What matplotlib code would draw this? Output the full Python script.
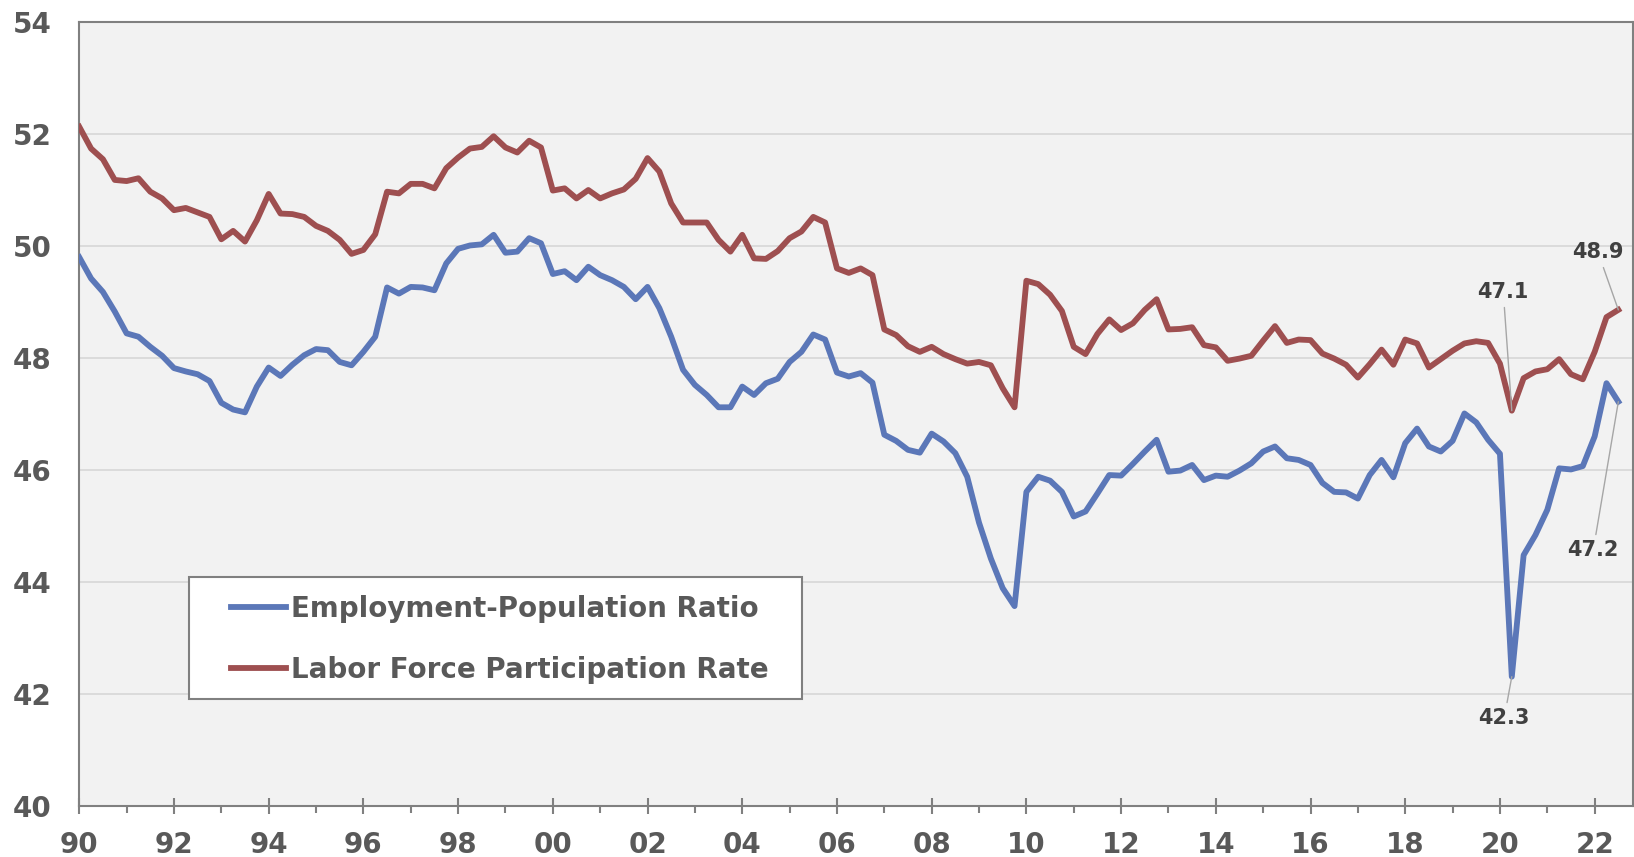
import numpy as np
import pandas as pd
from matplotlib import pyplot as plt
from matplotlib.patches import Rectangle

# quarterly data, 1990Q1 - 2022Q3
quarters = pd.period_range('1990Q1', '2022Q3', freq='Q')

emp_pop_ratio = [
    49.80, 49.42, 49.18, 48.83, 48.44, 48.38, 48.20, 48.04, 47.82, 47.76,
    47.71, 47.59, 47.20, 47.08, 47.03, 47.49, 47.83, 47.68, 47.88, 48.05,
    48.16, 48.14, 47.93, 47.87, 48.11, 48.38, 49.26, 49.15, 49.27, 49.26,
    49.21, 49.69, 49.95, 50.01, 50.03, 50.20, 49.88, 49.90, 50.14, 50.05,
    49.50, 49.55, 49.39, 49.63, 49.48, 49.39, 49.27, 49.05, 49.27, 48.89,
    48.38, 47.79, 47.52, 47.34, 47.12, 47.12, 47.49, 47.34, 47.55, 47.63,
    47.93, 48.11, 48.42, 48.33, 47.74, 47.67, 47.73, 47.56, 46.63, 46.52,
    46.36, 46.31, 46.65, 46.51, 46.30, 45.88, 45.06, 44.42, 43.89, 43.57,
    45.61, 45.88, 45.81, 45.61, 45.17, 45.26, 45.58, 45.91, 45.90, 46.11,
    46.33, 46.54, 45.97, 45.99, 46.09, 45.82, 45.90, 45.88, 45.99, 46.12,
    46.33, 46.42, 46.21, 46.18, 46.09, 45.77, 45.61, 45.60, 45.49, 45.91,
    46.18, 45.87, 46.48, 46.74, 46.42, 46.33, 46.52, 47.01, 46.85, 46.54,
    46.29, 42.31, 44.48, 44.84, 45.29, 46.03, 46.01, 46.07, 46.60, 47.55,
    47.22]

lf_part_rate = [
    52.13, 51.74, 51.55, 51.18, 51.16, 51.21, 50.97, 50.85, 50.64, 50.68,
    50.60, 50.52, 50.12, 50.27, 50.08, 50.46, 50.93, 50.58, 50.57, 50.52,
    50.36, 50.27, 50.11, 49.86, 49.93, 50.21, 50.97, 50.94, 51.11, 51.11,
    51.03, 51.39, 51.58, 51.74, 51.77, 51.96, 51.76, 51.67, 51.88, 51.76,
    50.99, 51.03, 50.85, 51.00, 50.85, 50.94, 51.01, 51.20, 51.57, 51.33,
    50.76, 50.42, 50.42, 50.42, 50.11, 49.90, 50.20, 49.78, 49.77, 49.91,
    50.14, 50.26, 50.52, 50.42, 49.60, 49.52, 49.60, 49.48, 48.51, 48.41,
    48.21, 48.11, 48.20, 48.07, 47.98, 47.90, 47.93, 47.87, 47.46, 47.12,
    49.38, 49.32, 49.13, 48.84, 48.20, 48.07, 48.43, 48.69, 48.50, 48.62,
    48.86, 49.05, 48.51, 48.52, 48.55, 48.23, 48.19, 47.95, 47.99, 48.04,
    48.31, 48.57, 48.27, 48.33, 48.32, 48.08, 47.99, 47.88, 47.65, 47.89,
    48.15, 47.88, 48.33, 48.26, 47.83, 47.98, 48.13, 48.26, 48.30, 48.27,
    47.90, 47.06, 47.64, 47.76, 47.80, 47.98, 47.71, 47.62, 48.11, 48.73,
    48.86]

year_ticks = list(range(1990, 2023, 2))
year_labels = ['%02d' % (y % 100) for y in year_ticks]

BLUE = '#5B77B8'
RED = '#9E4F50'
TXT = '#595959'

x = quarters.year + (quarters.quarter - 1) / 4.0

fig = plt.figure(figsize=(16.34, 8.57), dpi=100)
ax = fig.add_axes([0.0485, 0.0595, 0.9509, 0.9148])
ax.set_facecolor('#F2F2F2')

ax.plot(x, emp_pop_ratio, color=BLUE, lw=4.2, solid_joinstyle='round',
        label='Employment-Population Ratio', zorder=3)
ax.plot(x, lf_part_rate, color=RED, lw=4.2, solid_joinstyle='round',
        label='Labor Force Participation Rate', zorder=3)

ax.set_xlim(1990, 2022.81)
ax.set_ylim(40, 54)
ax.set_yticks(range(40, 55, 2))
ax.set_xticks(year_ticks)
ax.set_xticklabels(year_labels)
ax.set_xticks(range(1991, 2022, 2), minor=True)
ax.grid(axis='y', color='#D9D9D9', lw=1.3, zorder=1)
ax.set_axisbelow(True)

for s in ax.spines.values():
    s.set_color('#808080')
    s.set_linewidth(1.5)

ax.tick_params(axis='y', length=0, pad=20, labelsize=20, labelcolor=TXT)
ax.tick_params(axis='x', which='major', direction='inout', length=12, width=1.5,
               color='#808080', pad=12, labelsize=20, labelcolor=TXT)
ax.tick_params(axis='x', which='minor', direction='out', length=5, width=1.5,
               color='#808080')
for lab in ax.get_xticklabels() + ax.get_yticklabels():
    lab.set_fontweight('bold')

# legend box (white, gray border) + legend entries
ax.add_patch(Rectangle((0.0706, 0.1365), 0.3944, 0.1555, transform=ax.transAxes,
                       facecolor='white', edgecolor='#808080', lw=1.5, zorder=4))
leg = ax.legend(loc='center left', bbox_to_anchor=(0.0976, 0.2125), frameon=False,
                prop={'weight': 'bold', 'size': 20}, labelcolor=TXT,
                handlelength=2.0, handletextpad=0.15, labelspacing=1.21,
                borderpad=0, borderaxespad=0)
leg.set_zorder(5)

# data labels with leader lines
i = len(x) - 1
j = int(np.argmin(emp_pop_ratio))
labels = [
    (x[j], lf_part_rate[j], (2020.07, 49.18)),
    (x[i], lf_part_rate[i], (2022.07, 49.89)),
    (x[i], emp_pop_ratio[i], (2021.97, 44.57)),
    (x[j], emp_pop_ratio[j], (2020.09, 41.57)),
]
for px, py, pos in labels:
    ax.annotate('%.1f' % py, xy=(px, py), xytext=pos, ha='center', va='center',
                fontsize=15, fontweight='bold', color='#404040', zorder=6,
                arrowprops=dict(arrowstyle='-', color='#A6A6A6', lw=1,
                                shrinkA=2, shrinkB=0))

plt.savefig('out.png', dpi=100)
